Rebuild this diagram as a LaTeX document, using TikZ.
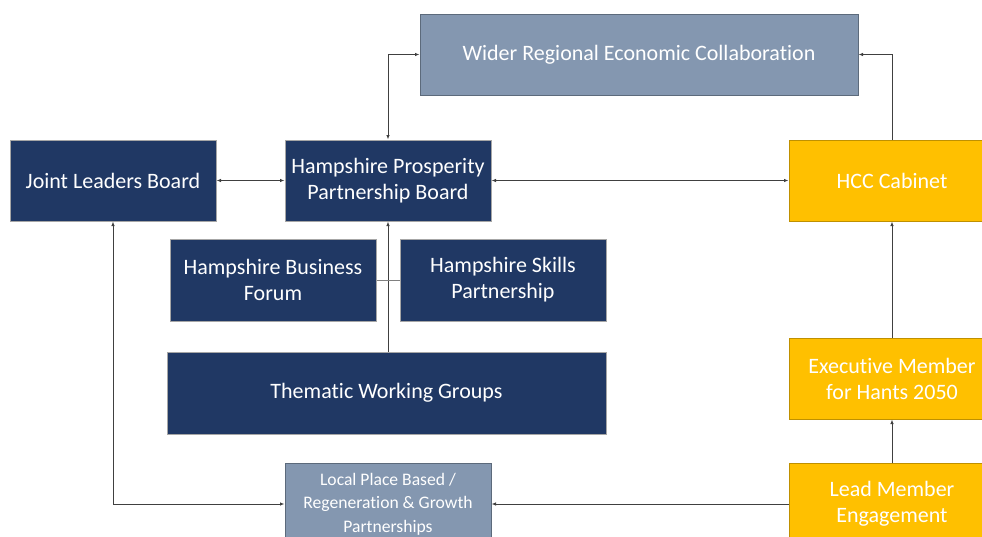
\documentclass[tikz,border=0pt]{standalone}
\usepackage{fontspec}
\setmainfont{Carlito}[Ligatures={NoCommon}]
\usetikzlibrary{arrows.meta}
\definecolor{navy}{HTML}{203864}
\definecolor{slate}{HTML}{8497B0}
\definecolor{gold}{HTML}{FFC000}
\definecolor{linec}{HTML}{404040}
\tikzset{
  box/.style={rectangle, minimum width=206pt, minimum height=81pt, inner sep=2pt,
    text=white, align=center, line width=1pt,
    font=\fontsize{22pt}{26pt}\selectfont},
  navybox/.style={box, fill=navy, draw=gray!70},
  slatebox/.style={box, fill=slate, draw=slate!70!black},
  goldbox/.style={box, fill=gold, draw=gold!75!black},
  conn/.style={draw=linec, line width=0.8pt},
  tip/.style={-{Latex[length=4.5pt,width=3.5pt]}},
  tips/.style={{Latex[length=4.5pt,width=3.5pt]}-{Latex[length=4.5pt,width=3.5pt]}},
}
\begin{document}
\begin{tikzpicture}[x=1pt,y=-1pt]
\useasboundingbox (0,0) rectangle (982,536);
\clip (0,0) rectangle (982,536);
\fill[white] (0,0) rectangle (982,536);
\node[slatebox, minimum width=438pt] (wrc) at (639,54.5) {Wider Regional Economic Collaboration};
\node[navybox] (jlb) at (113,180.5) {Joint Leaders Board};
\node[navybox] (hppb) at (388,180.5) {Hampshire Prosperity\\Partnership Board};
\node[goldbox] (hcc) at (892,180.5) {HCC Cabinet};
\node[navybox, minimum height=82pt] (hbf) at (273,280) {Hampshire Business\\Forum};
\node[navybox, minimum height=82pt] (hsp) at (503,280) {Hampshire Skills\\Partnership};
\node[navybox, minimum width=439pt, minimum height=82pt] (twg) at (386.5,393) {Thematic Working Groups};
\node[slatebox, font=\fontsize{17.6pt}{23.5pt}\selectfont] (lpb) at (388,504) {Local Place Based /\\Regeneration \& Growth\\Partnerships};
\node[goldbox] (exe) at (892,378.5) {Executive Member\\for Hants 2050};
\node[goldbox] (lme) at (892,504) {Lead Member\\Engagement};

\draw[conn, tips] (hppb.north) |- (wrc.west);
\draw[conn, tip] (hcc.north) |- (wrc.east);
\draw[conn, tips] (jlb.east) -- (hppb.west);
\draw[conn, tips] (hppb.east) -- (hcc.west);
\draw[conn, tip] (exe.north) -- (hcc.south);
\draw[conn, tip] (lme.north) -- (exe.south);
\draw[conn, tip] (lme.west) -- (lpb.east);
\draw[conn, tips] (jlb.south) |- (lpb.west);
\draw[conn, tip] (twg.north -| hppb.south) -- (hppb.south);
\draw[conn, draw=gray] (hbf.east) -- (hsp.west);
\end{tikzpicture}
\end{document}
